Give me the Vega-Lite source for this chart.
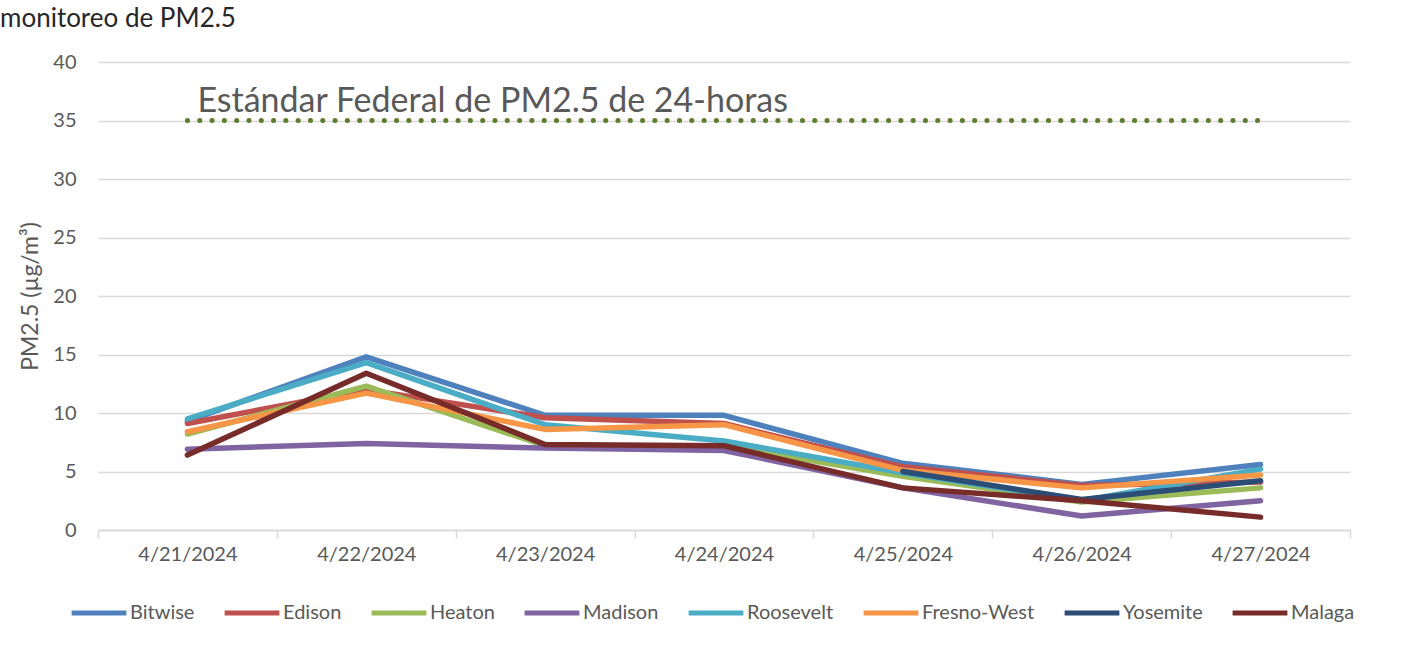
{
  "$schema": "https://vega.github.io/schema/vega-lite/v6.json",
  "width": 1252,
  "height": 468,
  "autosize": {"type": "none"},
  "padding": {"left": 98, "top": 62, "right": 53, "bottom": 116},
  "background": "white",
  "title": {"text": "monitoreo de PM2.5", "anchor": "start", "orient": "top", "frame": "group", "dx": -98, "dy": 0, "offset": -6, "baseline": "bottom", "font": "Lato", "fontSize": 26, "fontWeight": "normal", "color": "#262626"},
  "config": {
    "view": {"stroke": null},
    "font": "Lato",
    "axis": {"labelFont": "Lato", "titleFont": "Lato", "labelColor": "#595959", "titleColor": "#595959", "labelFontSize": 20, "titleFontSize": 23, "titleFontWeight": "normal", "gridColor": "#d9d9d9", "domainColor": "#d9d9d9", "tickColor": "#d9d9d9"}
  },
  "datasets": {
    "stations": [
      {"date": "4/21/2024", "station": "Bitwise", "value": 9.3},
      {"date": "4/22/2024", "station": "Bitwise", "value": 14.8},
      {"date": "4/23/2024", "station": "Bitwise", "value": 9.8},
      {"date": "4/24/2024", "station": "Bitwise", "value": 9.8},
      {"date": "4/25/2024", "station": "Bitwise", "value": 5.7},
      {"date": "4/26/2024", "station": "Bitwise", "value": 3.9},
      {"date": "4/27/2024", "station": "Bitwise", "value": 5.6},
      {"date": "4/21/2024", "station": "Edison", "value": 9.1},
      {"date": "4/22/2024", "station": "Edison", "value": 12.0},
      {"date": "4/23/2024", "station": "Edison", "value": 9.6},
      {"date": "4/24/2024", "station": "Edison", "value": 9.1},
      {"date": "4/25/2024", "station": "Edison", "value": 5.4},
      {"date": "4/26/2024", "station": "Edison", "value": 3.8},
      {"date": "4/27/2024", "station": "Edison", "value": 4.1},
      {"date": "4/21/2024", "station": "Heaton", "value": 8.2},
      {"date": "4/22/2024", "station": "Heaton", "value": 12.3},
      {"date": "4/23/2024", "station": "Heaton", "value": 7.2},
      {"date": "4/24/2024", "station": "Heaton", "value": 7.2},
      {"date": "4/25/2024", "station": "Heaton", "value": 4.6},
      {"date": "4/26/2024", "station": "Heaton", "value": 2.4},
      {"date": "4/27/2024", "station": "Heaton", "value": 3.6},
      {"date": "4/21/2024", "station": "Madison", "value": 6.9},
      {"date": "4/22/2024", "station": "Madison", "value": 7.4},
      {"date": "4/23/2024", "station": "Madison", "value": 7.0},
      {"date": "4/24/2024", "station": "Madison", "value": 6.8},
      {"date": "4/25/2024", "station": "Madison", "value": 3.6},
      {"date": "4/26/2024", "station": "Madison", "value": 1.2},
      {"date": "4/27/2024", "station": "Madison", "value": 2.5},
      {"date": "4/21/2024", "station": "Roosevelt", "value": 9.5},
      {"date": "4/22/2024", "station": "Roosevelt", "value": 14.3},
      {"date": "4/23/2024", "station": "Roosevelt", "value": 9.0},
      {"date": "4/24/2024", "station": "Roosevelt", "value": 7.6},
      {"date": "4/25/2024", "station": "Roosevelt", "value": 4.9},
      {"date": "4/26/2024", "station": "Roosevelt", "value": 2.5},
      {"date": "4/27/2024", "station": "Roosevelt", "value": 5.2},
      {"date": "4/21/2024", "station": "Fresno-West", "value": 8.4},
      {"date": "4/22/2024", "station": "Fresno-West", "value": 11.7},
      {"date": "4/23/2024", "station": "Fresno-West", "value": 8.6},
      {"date": "4/24/2024", "station": "Fresno-West", "value": 9.0},
      {"date": "4/25/2024", "station": "Fresno-West", "value": 5.1},
      {"date": "4/26/2024", "station": "Fresno-West", "value": 3.6},
      {"date": "4/27/2024", "station": "Fresno-West", "value": 4.7},
      {"date": "4/25/2024", "station": "Yosemite", "value": 5.0},
      {"date": "4/26/2024", "station": "Yosemite", "value": 2.6},
      {"date": "4/27/2024", "station": "Yosemite", "value": 4.2},
      {"date": "4/21/2024", "station": "Malaga", "value": 6.4},
      {"date": "4/22/2024", "station": "Malaga", "value": 13.4},
      {"date": "4/23/2024", "station": "Malaga", "value": 7.3},
      {"date": "4/24/2024", "station": "Malaga", "value": 7.2},
      {"date": "4/25/2024", "station": "Malaga", "value": 3.6},
      {"date": "4/26/2024", "station": "Malaga", "value": 2.5},
      {"date": "4/27/2024", "station": "Malaga", "value": 1.1}
    ],
    "standard": [
      {"date": "4/21/2024", "value": 35, "label": "Estándar Federal de PM2.5 de 24-horas"},
      {"date": "4/22/2024", "value": 35, "label": ""},
      {"date": "4/23/2024", "value": 35, "label": ""},
      {"date": "4/24/2024", "value": 35, "label": ""},
      {"date": "4/25/2024", "value": 35, "label": ""},
      {"date": "4/26/2024", "value": 35, "label": ""},
      {"date": "4/27/2024", "value": 35, "label": ""}
    ]
  },
  "layer": [
    {
      "data": {"name": "standard"},
      "mark": {"type": "line", "color": "#5e7d2f", "strokeWidth": 5, "strokeCap": "round", "strokeDash": [0.1, 12.2]},
      "encoding": {
        "x": {"field": "date", "type": "ordinal", "bandPosition": 0.5,
              "scale": {"type": "band", "paddingInner": 0, "paddingOuter": 0},
              "axis": {"title": null, "labelAngle": 0, "tickBand": "extent", "grid": false, "ticks": true, "tickSize": 8, "tickWidth": 1.5, "domainWidth": 1.5, "labelPadding": 6}},
        "y": {"field": "value", "type": "quantitative",
              "scale": {"domain": [0, 40]},
              "axis": {"title": "PM2.5 (µg/m³)", "values": [0, 5, 10, 15, 20, 25, 30, 35, 40], "domain": false, "ticks": false, "labelPadding": 22, "titlePadding": 10, "gridWidth": 1.5}}
      }
    },
    {
      "data": {"name": "standard"},
      "transform": [{"filter": "datum.label != ''"}],
      "mark": {"type": "text", "align": "left", "baseline": "alphabetic", "dx": 10, "dy": -9, "fontSize": 34, "font": "Lato", "color": "#595959"},
      "encoding": {
        "x": {"field": "date", "type": "ordinal", "bandPosition": 0.5},
        "y": {"field": "value", "type": "quantitative"},
        "text": {"field": "label"}
      }
    },
    {
      "data": {"name": "stations"},
      "mark": {"type": "line", "strokeWidth": 5.5, "strokeCap": "round", "strokeJoin": "round"},
      "encoding": {
        "x": {"field": "date", "type": "ordinal", "bandPosition": 0.5},
        "y": {"field": "value", "type": "quantitative"},
        "color": {"field": "station", "type": "nominal",
          "scale": {"domain": ["Bitwise", "Edison", "Heaton", "Madison", "Roosevelt", "Fresno-West", "Yosemite", "Malaga"],
                    "range": ["#4f81bd", "#c0504d", "#9bbb59", "#8064a2", "#4bacc6", "#f79646", "#2c4d75", "#772c2a"]},
          "legend": {"title": null, "orient": "none", "direction": "horizontal", "legendX": -29, "legendY": 521,
                     "symbolType": "stroke", "symbolSize": 3000, "symbolStrokeWidth": 5,
                     "labelFont": "Lato", "labelFontSize": 20, "labelColor": "#595959", "labelOffset": 1, "columnPadding": 19}
        }
      }
    }
  ]
}
